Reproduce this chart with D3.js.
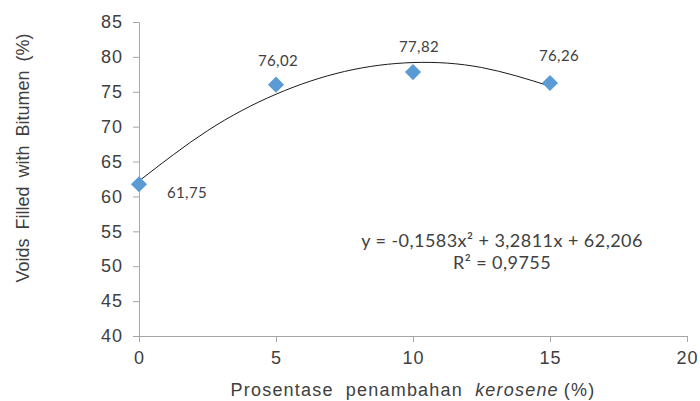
<!DOCTYPE html>
<html>
<head>
<meta charset="utf-8">
<script src="https://cdn.jsdelivr.net/npm/d3@7"></script>
<style>
  body { margin: 0; background: #fff; }
  svg { display: block; }
  .tick text { font-family: "Liberation Sans", Arial, sans-serif; font-size: 18px; letter-spacing: 1px; fill: #404040; }
  .axis path, .axis line { stroke: #a6a6a6; }
  .lbl { font-family: Lato, "Open Sans", sans-serif; font-size: 15px; letter-spacing: 0.4px; fill: #404040; }
  .title { font-family: "Liberation Sans", Arial, sans-serif; font-size: 18px; fill: #404040; }
</style>
</head>
<body>
<svg width="700" height="401"></svg>
<script>
// measured data
const kerosene = [0, 5, 10, 15]
const vfb = [61.75, 76.02, 77.82, 76.26]
const vfbLabels = ['61,75', '76,02', '77,82', '76,26']

// polynomial trendline, values
const trendX = [0, 2.5, 5, 7.5, 10, 12.5, 15]
const trendY = [62.21, 69.42, 74.65, 77.91, 79.19, 78.48, 75.80]

const xTicks = [0, 5, 10, 15, 20]
const yTicks = [40, 45, 50, 55, 60, 65, 70, 75, 80, 85]
const equation = ['y = -0,1583x² + 3,2811x + 62,206', 'R² = 0,9755']

const width = 700, height = 401
const margin = { top: 22, right: 13, bottom: 65, left: 139 }

const svg = d3.select('svg')

const xScale = d3.scaleLinear()
    .domain([0, 20])
    .range([margin.left, width - margin.right])
const yScale = d3.scaleLinear()
    .domain([40, 85])
    .range([height - margin.bottom, margin.top])

const xAxis = d3.axisBottom(xScale).tickValues(xTicks).tickSize(6).tickPadding(9).tickSizeOuter(0)
const yAxis = d3.axisLeft(yScale).tickValues(yTicks).tickSize(6).tickPadding(10).tickSizeOuter(0)

svg.append('g')
    .attr('class', 'axis')
    .attr('transform', 'translate(0,' + (height - margin.bottom) + ')')
    .call(xAxis)

svg.append('g')
    .attr('class', 'axis')
    .attr('transform', 'translate(' + margin.left + ',0)')
    .call(yAxis)

// trendline
const line = d3.line()
    .x(d => xScale(d[0]))
    .y(d => yScale(d[1]))
    .curve(d3.curveNatural)

svg.append('path')
    .datum(d3.zip(trendX, trendY))
    .attr('d', line)
    .attr('fill', 'none')
    .attr('stroke', '#1a1a1a')
    .attr('stroke-width', 1)

// markers
const points = d3.zip(kerosene, vfb, vfbLabels)
svg.selectAll('.pt')
    .data(points)
    .enter()
    .append('path')
    .attr('class', 'pt')
    .attr('d', d3.symbol().type(d3.symbolDiamond2).size(165))
    .attr('transform', d => 'translate(' + xScale(d[0]) + ',' + yScale(d[1]) + ')')
    .attr('fill', '#5b9bd5')

// data labels
const labelOffset = [[48, 14], [2, -19], [6, -20], [9, -22]]
svg.selectAll('.lbl-pt')
    .data(points)
    .enter()
    .append('text')
    .attr('class', 'lbl')
    .attr('text-anchor', 'middle')
    .attr('x', (d, i) => xScale(d[0]) + labelOffset[i][0])
    .attr('y', (d, i) => yScale(d[1]) + labelOffset[i][1])
    .text(d => d[2])

// equation
svg.selectAll('.eq')
    .data(equation)
    .enter()
    .append('text')
    .attr('class', 'lbl')
    .attr('text-anchor', 'middle')
    .style('font-size', '18px')
    .style('letter-spacing', '0.45px')
    .attr('x', 502)
    .attr('y', (d, i) => 247 + i * 22)
    .text(d => d)

// axis titles
svg.append('text')
    .attr('class', 'title')
    .attr('text-anchor', 'middle')
    .attr('transform', 'translate(29,158) rotate(-90)')
    .style('word-spacing', '4px')
    .text('Voids Filled with Bitumen (%)')

const xt = svg.append('text')
    .attr('class', 'title')
    .attr('text-anchor', 'middle')
    .attr('x', (margin.left + width - margin.right) / 2)
    .attr('y', 396)
    .style('letter-spacing', '1.2px')
    .style('word-spacing', '6px')
xt.append('tspan').text('Prosentase penambahan ')
xt.append('tspan').style('font-style', 'italic').text('kerosene')
xt.append('tspan').attr('dx', 5).text('(%)')
</script>
</body>
</html>
